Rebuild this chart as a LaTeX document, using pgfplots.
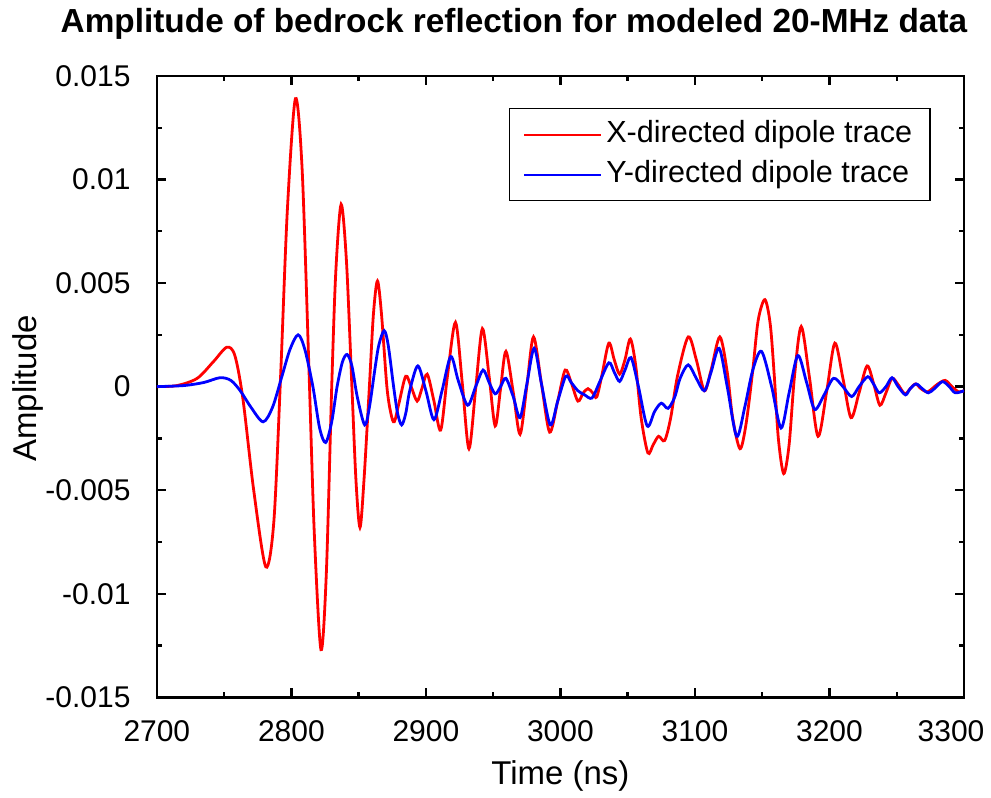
\documentclass[border=0pt]{standalone}
\usepackage{pgfplots}
\pgfplotsset{compat=1.18}
\usepackage{fontspec}
\setmainfont{Liberation Sans}
\pgfplotstableread{
t a
2700 0
2715 0.00005
2730 0.0004
2742 0.0012
2752 0.0019
2758 0.0015
2764 -0.0006
2772 -0.0050
2781 -0.0087
2787 -0.0065
2792 0.0005
2797 0.0085
2803 0.0139
2808 0.0105
2813 0.0010
2817 -0.0070
2822 -0.0127
2826 -0.0090
2830 0.0000
2833 0.0055
2837 0.0088
2841 0.0060
2845 0.0000
2848 -0.0045
2851 -0.0068
2854 -0.0045
2858 0.0000
2861 0.0035
2864 0.0051
2867 0.0035
2871 0.0000
2874 -0.0013
2876.5 -0.0017
2880 -0.0008
2885 0.0005
2889 0.0000
2893.5 -0.0007
2897 -0.0001
2901 0.0006
2906 -0.0007
2911 -0.0021
2916 0.0005
2922 0.0031
2927 0.0002
2932 -0.0030
2937 -0.0001
2942 0.0028
2947 0.0005
2951.5 -0.0019
2955.5 -0.0001
2959.5 0.0017
2965 -0.0003
2970 -0.0023
2975 0.0000
2980 0.0024
2986 0.0001
2992 -0.0022
2998 -0.0007
3003.5 0.0008
3008 0.0002
3013 -0.0007
3017 -0.0003
3020.5 -0.0001
3024 -0.0003
3027 -0.0005
3031 0.0006
3036 0.0021
3040 0.0013
3044 0.0006
3048 0.0013
3052 0.0023
3056 0.0010
3060 -0.0015
3065 -0.0032
3069 -0.0028
3073 -0.0024
3077.5 -0.0026
3082 -0.0015
3087 0.0005
3095 0.0024
3101 0.0013
3107 -0.0002
3112 0.0008
3118.5 0.0024
3124 0.0007
3128 -0.0015
3133.5 -0.0030
3138 -0.0018
3143 0.0008
3147 0.0032
3152 0.0042
3156 0.0030
3159 0.0005
3162 -0.0025
3166 -0.0042
3170 -0.0028
3174 0.0005
3179 0.0029
3185 0.0005
3191.5 -0.0024
3198 -0.0002
3204 0.0021
3210 0.0004
3216 -0.0015
3222 -0.0003
3228 0.0010
3233 0.0001
3237.5 -0.0009
3242 -0.0003
3246.5 0.0004
3251 0.0001
3256 -0.00035
3260 -0.0001
3264 0.00013
3268 -0.0001
3273 -0.00025
3280 0.0001
3286 0.0003
3291 0.0000
3296 -0.00025
3300 -0.0002
}\xtrace
\pgfplotstableread{
t a
2700 0
2720 0.00005
2735 0.0002
2747 0.00043
2755 0.0003
2762 -0.0002
2770 -0.0010
2779 -0.0017
2786 -0.0010
2793 0.0005
2799 0.0018
2805 0.0025
2810 0.0018
2816 0.0000
2821 -0.0020
2825.5 -0.0027
2830 -0.0017
2834 0.0000
2838 0.0012
2841.5 0.00155
2845 0.0010
2849 -0.0005
2854.5 -0.00185
2858 -0.0010
2862 0.0008
2865 0.0020
2869 0.0027
2872 0.0020
2876 0.0000
2879 -0.0013
2882 -0.00185
2885 -0.0013
2888 -0.0002
2894 0.0010
2900 -0.0002
2906 -0.0016
2912 -0.0002
2918.5 0.00145
2924 0.0003
2931 -0.0009
2937 0.0000
2942.5 0.0008
2947 0.0002
2951.5 -0.00035
2955.5 0.0000
2959.5 0.0004
2965 -0.0005
2970 -0.0015
2975 0.0001
2980.5 0.00185
2986 0.0001
2992.5 -0.00185
2998 -0.0007
3004 0.0005
3008 0.0002
3013 -0.0002
3018 -0.0004
3023.5 -0.00055
3029 0.0002
3036 0.00115
3040 0.0007
3044 0.00025
3048 0.0008
3052.5 0.0014
3058 0.0000
3064.5 -0.0019
3070 -0.0012
3075 -0.0008
3080 -0.00105
3085 -0.0005
3089 0.0004
3095 0.00105
3101 0.0004
3107 -0.0002
3112 0.0007
3118 0.00185
3124 0.0000
3131 -0.0024
3137 -0.0010
3143 0.0008
3149.5 0.0017
3157 0.0000
3164 -0.0020
3170 -0.0003
3176.5 0.0015
3183 0.0002
3189 -0.0011
3196 -0.0004
3203 0.0004
3210 0.0000
3216.5 -0.00048
3222 0.0000
3228.5 0.00048
3233 0.0001
3237 -0.0003
3242 0.0000
3246.5 0.00043
3251 0.0000
3256.5 -0.0004
3260 -0.0001
3264.5 0.00013
3269 -0.0001
3273.5 -0.0003
3278 -0.0001
3284 0.00024
3289 0.0000
3293.5 -0.0003
3300 -0.0002
}\ytrace
\begin{document}
\begin{tikzpicture}
\begin{axis}[
  scale only axis,
  width=404pt, height=311pt,
  xmin=2700, xmax=3300, ymin=-0.015, ymax=0.015,
  xtick={2700,2800,...,3300},
  xticklabels={2700,2800,2900,3000,3100,3200,\hspace*{-13pt}3300},
  ytick={-0.015,-0.01,-0.005,0,0.005,0.01,0.015},
  yticklabels={-0.015,-0.01,-0.005,0,0.005,0.01,0.015},
  minor tick num=1,
  tick align=inside,
  major tick length=4.5pt, minor tick length=2.75pt,
  every tick/.style={black, line width=1.2pt},
  axis line style={line width=1.3pt},
  tick label style={font=\fontsize{15}{18}\selectfont},
  xticklabel style={anchor=base, yshift=-22pt},
  yticklabel style={anchor=east, inner xsep=0pt, xshift=-13pt},
  xlabel={Time (ns)}, ylabel={Amplitude},
  xlabel style={font=\fontsize{16.5}{19}\selectfont, at={(axis description cs:0.5,0)}, anchor=base, yshift=-43.5pt},
  ylabel style={font=\fontsize{16.5}{19}\selectfont, at={(axis description cs:-0.1485,0.497)}, anchor=base},
  scaled y ticks=false,
  legend style={at={(0.959,0.9486)}, anchor=north east, draw=black, line width=0.8pt,
    font=\fontsize{15.3}{18}\selectfont, inner xsep=7pt, inner ysep=3.75pt, row sep=1.5pt,
    nodes={inner sep=2pt, text height=11pt, text depth=3.5pt},
    cells={anchor=west}},
  legend image code/.code={\draw[#1, line width=1pt] (0pt,0pt) -- (38.5pt,0pt);},
]
\addplot[red, line width=1.4pt, smooth] table[x=t, y=a] {\xtrace};
\addlegendentry{X-directed dipole trace}
\addplot[blue, line width=1.4pt, smooth] table[x=t, y=a] {\ytrace};
\addlegendentry{Y-directed dipole trace}
\end{axis}
\node[font=\bfseries\fontsize{16.7}{19}\selectfont, anchor=base] at ([xshift=-23.25pt, yshift=21.5pt]current axis.north) {Amplitude of bedrock reflection for modeled 20-MHz data};
\path ([xshift=-78.5pt, yshift=-48pt]current axis.south west) -- ([xshift=13pt, yshift=38pt]current axis.north east);
\end{tikzpicture}
\end{document}
